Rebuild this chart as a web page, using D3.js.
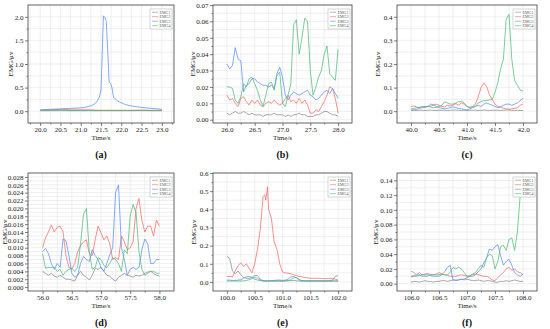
<!DOCTYPE html>
<html lang="en">
<head>
  <meta charset="utf-8">
  <title>EMG</title>
  <script src="https://d3js.org/d3.v7.min.js"></script>
  <style>
    body { margin: 0; background: #fff; }
  </style>
</head>
<body>
<div id="chart"></div>
<script>
"use strict"

// ---- data ----
var seriesNames = ["EMG1", "EMG2", "EMG3", "EMG4"];
var panelLetters = ["(a)", "(b)", "(c)", "(d)", "(e)", "(f)"];

// (a)
var timeA = [20.0,20.25,20.5,20.75,21.0,21.1,21.2,21.3,21.4,21.46,21.5,21.53,21.56,21.6,21.63,21.67,21.7,21.74,21.77,21.81,21.9,22.0,22.1,22.25,22.5,22.75,23.0];
var emg1A = [0.01,0.01,0.012,0.01,0.01,0.01,0.012,0.01,0.01,0.01,0.01,0.01,0.01,0.01,0.01,0.01,0.01,0.01,0.01,0.01,0.01,0.01,0.01,0.01,0.012,0.01,0.01];
var emg2A = [0.02,0.03,0.04,0.03,0.03,0.03,0.03,0.025,0.02,0.02,0.02,0.02,0.02,0.02,0.02,0.02,0.02,0.02,0.02,0.02,0.02,0.02,0.02,0.02,0.025,0.02,0.02];
var emg3A = [0.03,0.04,0.05,0.06,0.07,0.08,0.1,0.13,0.2,0.3,0.45,1.2,2.02,1.98,1.9,1.2,0.62,0.58,0.5,0.3,0.22,0.18,0.14,0.11,0.08,0.06,0.04];
var emg4A = [0.015,0.02,0.02,0.015,0.015,0.015,0.015,0.015,0.015,0.015,0.015,0.015,0.015,0.015,0.015,0.015,0.015,0.015,0.015,0.015,0.015,0.015,0.015,0.015,0.015,0.015,0.015];

// (b)
var timeB = [26.00,26.05,26.10,26.15,26.20,26.25,26.30,26.35,26.40,26.45,26.50,26.55,26.60,26.65,26.70,26.75,26.80,26.85,26.90,26.95,27.00,27.05,27.10,27.15,27.20,27.25,27.30,27.35,27.40,27.45,27.50,27.55,27.60,27.65,27.70,27.75,27.80,27.85,27.90,27.95,28.00];
var emg1B = [0.004,0.003,0.004,0.005,0.004,0.004,0.005,0.004,0.003,0.004,0.003,0.003,0.003,0.002,0.003,0.003,0.003,0.004,0.003,0.003,0.003,0.002,0.003,0.002,0.003,0.003,0.004,0.003,0.003,0.002,0.002,0.002,0.003,0.003,0.004,0.005,0.005,0.004,0.003,0.003,0.002];
var emg2B = [0.015,0.012,0.013,0.010,0.008,0.013,0.014,0.011,0.009,0.012,0.010,0.012,0.009,0.008,0.010,0.011,0.010,0.012,0.010,0.009,0.010,0.013,0.015,0.011,0.012,0.010,0.013,0.010,0.012,0.009,0.004,0.004,0.006,0.005,0.008,0.011,0.015,0.020,0.019,0.013,0.004];
var emg3B = [0.034,0.031,0.033,0.044,0.037,0.036,0.017,0.021,0.022,0.025,0.025,0.023,0.022,0.021,0.021,0.020,0.021,0.019,0.028,0.032,0.026,0.015,0.012,0.015,0.017,0.016,0.015,0.016,0.017,0.018,0.015,0.014,0.012,0.013,0.015,0.017,0.018,0.016,0.019,0.016,0.013];
var emg4B = [0.020,0.020,0.019,0.012,0.010,0.014,0.022,0.020,0.025,0.026,0.022,0.018,0.012,0.008,0.015,0.022,0.023,0.018,0.027,0.029,0.010,0.008,0.015,0.022,0.058,0.061,0.040,0.050,0.062,0.060,0.030,0.015,0.020,0.026,0.030,0.040,0.045,0.028,0.026,0.024,0.043];

// (c)
var timeC = [40.00,40.05,40.10,40.15,40.20,40.25,40.30,40.35,40.40,40.45,40.50,40.55,40.60,40.65,40.70,40.75,40.80,40.85,40.90,40.95,41.00,41.05,41.10,41.15,41.20,41.25,41.30,41.35,41.40,41.45,41.50,41.55,41.60,41.65,41.70,41.75,41.80,41.85,41.90,41.95,42.00];
var emg1C = [0.003,0.004,0.003,0.004,0.004,0.003,0.004,0.005,0.004,0.003,0.004,0.004,0.004,0.003,0.004,0.005,0.005,0.004,0.003,0.004,0.003,0.004,0.004,0.004,0.003,0.004,0.005,0.004,0.003,0.004,0.004,0.004,0.003,0.004,0.005,0.005,0.004,0.003,0.004,0.003,0.003];
var emg2C = [0.020,0.022,0.018,0.015,0.018,0.020,0.020,0.022,0.025,0.030,0.025,0.020,0.018,0.025,0.022,0.025,0.032,0.025,0.035,0.030,0.020,0.015,0.020,0.030,0.060,0.100,0.120,0.105,0.070,0.050,0.030,0.020,0.018,0.012,0.010,0.008,0.010,0.012,0.015,0.025,0.030];
var emg3C = [0.005,0.005,0.008,0.012,0.015,0.015,0.020,0.030,0.028,0.020,0.015,0.012,0.010,0.012,0.015,0.018,0.015,0.012,0.010,0.008,0.005,0.010,0.015,0.020,0.025,0.020,0.030,0.035,0.030,0.025,0.020,0.015,0.018,0.025,0.030,0.030,0.025,0.030,0.035,0.045,0.055];
var emg4C = [0.010,0.012,0.015,0.017,0.018,0.020,0.020,0.017,0.015,0.016,0.020,0.025,0.040,0.035,0.030,0.030,0.035,0.040,0.042,0.035,0.020,0.017,0.018,0.020,0.035,0.040,0.045,0.045,0.048,0.050,0.080,0.120,0.180,0.220,0.390,0.410,0.220,0.130,0.110,0.090,0.085];

// (d)
var timeD = [56.00,56.05,56.10,56.15,56.20,56.25,56.30,56.35,56.40,56.45,56.50,56.55,56.60,56.65,56.70,56.75,56.80,56.85,56.90,56.95,57.00,57.05,57.10,57.15,57.20,57.25,57.30,57.35,57.40,57.45,57.50,57.55,57.60,57.65,57.70,57.75,57.80,57.85,57.90,57.95,58.00];
var emg1D = [0.0040,0.0035,0.0030,0.0035,0.0028,0.0025,0.0030,0.0025,0.0020,0.0020,0.0018,0.0015,0.0030,0.0040,0.0030,0.0025,0.0018,0.0030,0.0048,0.0045,0.0050,0.0040,0.0030,0.0028,0.0020,0.0015,0.0025,0.0030,0.0035,0.0030,0.0028,0.0025,0.0030,0.0028,0.0030,0.0035,0.0038,0.0040,0.0035,0.0030,0.0028];
var emg2D = [0.0100,0.0125,0.0140,0.0158,0.0140,0.0152,0.0155,0.0140,0.0080,0.0050,0.0045,0.0060,0.0090,0.0105,0.0115,0.0120,0.0085,0.0080,0.0120,0.0155,0.0138,0.0120,0.0130,0.0110,0.0070,0.0075,0.0070,0.0130,0.0115,0.0095,0.0100,0.0115,0.0200,0.0225,0.0170,0.0140,0.0155,0.0155,0.0130,0.0170,0.0155];
var emg3D = [0.0090,0.0098,0.0085,0.0060,0.0045,0.0060,0.0050,0.0122,0.0118,0.0080,0.0035,0.0025,0.0030,0.0060,0.0078,0.0070,0.0065,0.0095,0.0080,0.0070,0.0050,0.0040,0.0060,0.0082,0.0100,0.0240,0.0260,0.0100,0.0070,0.0030,0.0045,0.0050,0.0045,0.0050,0.0095,0.0122,0.0110,0.0060,0.0060,0.0070,0.0070];
var emg4D = [0.0085,0.0048,0.0050,0.0050,0.0050,0.0040,0.0045,0.0030,0.0040,0.0045,0.0048,0.0040,0.0050,0.0110,0.0185,0.0200,0.0090,0.0045,0.0050,0.0075,0.0070,0.0055,0.0050,0.0060,0.0075,0.0070,0.0060,0.0040,0.0095,0.0085,0.0180,0.0210,0.0190,0.0090,0.0045,0.0030,0.0035,0.0040,0.0040,0.0035,0.0035];

// (e)
var timeE = [100.00,100.05,100.10,100.15,100.20,100.25,100.30,100.35,100.40,100.45,100.50,100.55,100.60,100.65,100.68,100.70,100.73,100.75,100.80,100.85,100.90,100.95,101.00,101.05,101.10,101.15,101.20,101.25,101.30,101.35,101.40,101.45,101.50,101.55,101.60,101.65,101.70,101.75,101.80,101.85,101.90,101.95,102.00];
var emg1E = [0.140,0.130,0.060,0.045,0.060,0.040,0.025,0.020,0.020,0.025,0.035,0.035,0.015,0.008,0.006,0.005,0.005,0.005,0.005,0.005,0.006,0.005,0.005,0.005,0.006,0.007,0.008,0.006,0.005,0.005,0.005,0.005,0.005,0.005,0.005,0.005,0.005,0.005,0.005,0.005,0.005,0.005,0.005];
var emg2E = [0.030,0.030,0.028,0.060,0.090,0.105,0.085,0.100,0.075,0.050,0.100,0.180,0.290,0.470,0.480,0.450,0.525,0.400,0.350,0.220,0.180,0.100,0.055,0.050,0.048,0.045,0.040,0.035,0.030,0.028,0.025,0.022,0.020,0.020,0.020,0.020,0.019,0.018,0.018,0.018,0.018,0.015,0.010];
var emg3E = [0.010,0.010,0.008,0.008,0.010,0.012,0.020,0.028,0.030,0.025,0.015,0.010,0.008,0.006,0.006,0.006,0.006,0.007,0.008,0.008,0.010,0.010,0.008,0.010,0.015,0.028,0.030,0.022,0.012,0.008,0.006,0.006,0.006,0.006,0.006,0.006,0.006,0.006,0.006,0.007,0.010,0.030,0.035];
var emg4E = [0.005,0.005,0.005,0.005,0.005,0.005,0.006,0.008,0.012,0.018,0.025,0.020,0.010,0.005,0.005,0.005,0.005,0.005,0.005,0.005,0.005,0.005,0.005,0.006,0.008,0.012,0.022,0.025,0.012,0.005,0.005,0.005,0.005,0.005,0.005,0.005,0.005,0.005,0.005,0.005,0.005,0.005,0.005];

// (f)
var timeF = [106.00,106.05,106.10,106.15,106.20,106.25,106.30,106.35,106.40,106.45,106.50,106.55,106.60,106.65,106.70,106.75,106.80,106.85,106.90,106.95,107.00,107.05,107.10,107.15,107.20,107.25,107.30,107.35,107.40,107.45,107.50,107.55,107.60,107.65,107.70,107.75,107.80,107.85,107.90,107.95,108.00];
var emg1F = [0.002,0.003,0.003,0.002,0.003,0.004,0.003,0.003,0.002,0.003,0.003,0.004,0.004,0.003,0.004,0.005,0.004,0.005,0.006,0.005,0.006,0.005,0.004,0.004,0.005,0.004,0.003,0.004,0.004,0.003,0.002,0.002,0.003,0.003,0.004,0.003,0.004,0.005,0.004,0.003,0.003];
var emg2F = [0.010,0.011,0.012,0.015,0.012,0.013,0.014,0.012,0.012,0.013,0.015,0.013,0.012,0.011,0.010,0.010,0.010,0.011,0.012,0.011,0.010,0.011,0.012,0.013,0.012,0.011,0.010,0.010,0.008,0.005,0.004,0.008,0.012,0.015,0.020,0.022,0.018,0.020,0.016,0.015,0.012];
var emg3F = [0.009,0.010,0.010,0.011,0.012,0.012,0.012,0.011,0.010,0.010,0.010,0.012,0.016,0.022,0.025,0.005,0.005,0.005,0.006,0.006,0.008,0.010,0.010,0.012,0.016,0.020,0.028,0.035,0.047,0.045,0.050,0.053,0.038,0.025,0.030,0.033,0.025,0.015,0.012,0.010,0.013];
var emg4F = [0.017,0.015,0.012,0.012,0.010,0.010,0.010,0.012,0.012,0.012,0.012,0.013,0.012,0.012,0.015,0.022,0.020,0.022,0.020,0.015,0.010,0.010,0.013,0.015,0.020,0.025,0.022,0.035,0.040,0.038,0.020,0.030,0.050,0.052,0.045,0.060,0.062,0.045,0.070,0.120,0.130];

// tick labels
var xTicksA = [20.0, 20.5, 21.0, 21.5, 22.0, 22.5, 23.0];
var xTicksB = [26.0, 26.5, 27.0, 27.5, 28.0];
var xTicksC = [40.0, 40.5, 41.0, 41.5, 42.0];
var xTicksD = [56.0, 56.5, 57.0, 57.5, 58.0];
var xTicksE = [100.0, 100.5, 101.0, 101.5, 102.0];
var xTicksF = [106.0, 106.5, 107.0, 107.5, 108.0];
var yTicksA = [0.0, 0.5, 1.0, 1.5, 2.0];
var yTicksB = [0.00, 0.01, 0.02, 0.03, 0.04, 0.05, 0.06, 0.07];
var yTicksC = [0.0, 0.1, 0.2, 0.3, 0.4];
var yTicksD = [0.000, 0.002, 0.004, 0.006, 0.008, 0.010, 0.012, 0.014, 0.016, 0.018, 0.020, 0.022, 0.024, 0.026, 0.028];
var yTicksE = [0.0, 0.1, 0.2, 0.3, 0.4, 0.5, 0.6];
var yTicksF = [0.00, 0.02, 0.04, 0.06, 0.08, 0.10, 0.12, 0.14];

var colors = ["#8a8a8a", "#f46a66", "#5a8ff0", "#4fb97a"];
var serif = "'Liberation Serif', 'Times New Roman', Times, serif";

// layout of the six panels (pixel frames + domains)
var panels = [
  {L: 28,  R: 174, T: 5,   B: 123, xDom: [19.7, 23.3],   yDom: [-0.25, 2.25],  xt: xTicksA, yt: yTicksA, yf: ".1f", t: timeA, s: [emg1A, emg2A, emg3A, emg4A], lab: 15},
  {L: 213, R: 352, T: 5,   B: 123, xDom: [25.75, 28.25], yDom: [-0.002, 0.07], xt: xTicksB, yt: yTicksB, yf: ".2f", t: timeB, s: [emg1B, emg2B, emg3B, emg4B], lab: 18},
  {L: 397, R: 537, T: 5,   B: 123, xDom: [39.75, 42.25], yDom: [-0.05, 0.45],  xt: xTicksC, yt: yTicksC, yf: ".1f", t: timeC, s: [emg1C, emg2C, emg3C, emg4C], lab: 17},
  {L: 28,  R: 174, T: 173, B: 291, xDom: [55.75, 58.25], yDom: [-0.001, 0.029], xt: xTicksD, yt: yTicksD, yf: ".3f", t: timeD, s: [emg1D, emg2D, emg3D, emg4D], lab: 21},
  {L: 213, R: 352, T: 173, B: 291, xDom: [99.75, 102.25], yDom: [-0.05, 0.6],  xt: xTicksE, yt: yTicksE, yf: ".1f", t: timeE, s: [emg1E, emg2E, emg3E, emg4E], lab: 17},
  {L: 397, R: 537, T: 173, B: 291, xDom: [105.75, 108.25], yDom: [-0.01, 0.15], xt: xTicksF, yt: yTicksF, yf: ".2f", t: timeF, s: [emg1F, emg2F, emg3F, emg4F], lab: 19}
];

var svg = d3.select("#chart").append("svg")
  .attr("width", 550).attr("height", 329)
  .attr("font-family", serif);

function minors(ticks, dom) {
  var step = ticks[1] - ticks[0];
  var out = [];
  ticks.forEach(function (v, i) {
    if (i === 0 && v - step / 2 > dom[0]) out.push(v - step / 2);
    if (v + step / 2 < dom[1]) out.push(v + step / 2);
  });
  return out;
}

panels.forEach(function (p, k) {
  var x = d3.scaleLinear().domain(p.xDom).range([p.L, p.R]);
  var y = d3.scaleLinear().domain(p.yDom).range([p.B, p.T]);
  var g = svg.append("g");

  var xMin = minors(p.xt, p.xDom), yMin = minors(p.yt, p.yDom);

  // grid
  var grid = g.append("g").attr("stroke", "#e4e4e4").attr("stroke-width", 0.6);
  grid.selectAll(".gx").data(p.xt.concat(xMin)).enter().append("line")
    .attr("x1", d => x(d)).attr("x2", d => x(d)).attr("y1", p.T).attr("y2", p.B);
  grid.selectAll(".gy").data(p.yt.concat(yMin)).enter().append("line")
    .attr("y1", d => y(d)).attr("y2", d => y(d)).attr("x1", p.L).attr("x2", p.R);

  // series
  var line = d3.line().x(d => x(d[0])).y(d => y(d[1]));
  p.s.forEach(function (vals, j) {
    g.append("path")
      .datum(p.t.map((tt, i) => [tt, vals[i]]))
      .attr("d", line)
      .attr("fill", "none")
      .attr("stroke", colors[j])
      .attr("stroke-width", 0.75)
      .attr("stroke-linejoin", "round");
  });

  // axes
  var ax = g.append("g").attr("transform", "translate(0," + p.B + ")")
    .call(d3.axisBottom(x).tickValues(p.xt).tickFormat(d3.format(".1f")).tickSize(3).tickPadding(1.5));
  ax.append("g").call(d3.axisBottom(x).tickValues(xMin).tickFormat("").tickSize(1.5));
  var ay = g.append("g").attr("transform", "translate(" + p.L + ",0)")
    .call(d3.axisLeft(y).tickValues(p.yt).tickFormat(d3.format(p.yf)).tickSize(3).tickPadding(1.5));
  ay.append("g").call(d3.axisLeft(y).tickValues(yMin).tickFormat("").tickSize(1.5));
  g.selectAll(".domain").remove();
  g.selectAll(".tick line").attr("stroke", "#444").attr("stroke-width", 0.7);
  g.selectAll(".tick text").attr("font-size", 7).attr("fill", "#222");

  // frame
  g.append("rect").attr("x", p.L).attr("y", p.T)
    .attr("width", p.R - p.L).attr("height", p.B - p.T)
    .attr("fill", "none").attr("stroke", "#555").attr("stroke-width", 0.9);

  // legend
  var bw = 22, bh = 20, bx = p.R - bw - 2, by = p.T + 4;
  var lg = g.append("g");
  lg.append("rect").attr("x", bx).attr("y", by).attr("width", bw).attr("height", bh)
    .attr("fill", "#fff").attr("stroke", "#aaa").attr("stroke-width", 0.5);
  seriesNames.forEach(function (nm, j) {
    var yy = by + 3.2 + j * 4.5;
    lg.append("line").attr("x1", bx + 2).attr("x2", bx + 8).attr("y1", yy).attr("y2", yy)
      .attr("stroke", colors[j]).attr("stroke-width", 0.6);
    lg.append("text").attr("x", bx + 9.5).attr("y", yy + 1.4).attr("font-size", 4)
      .attr("fill", "#555").text(nm);
  });

  // labels
  var cx = (p.L + p.R) / 2;
  g.append("text").attr("x", cx).attr("y", p.B + 17).attr("text-anchor", "middle")
    .attr("font-size", 7).attr("fill", "#222").text("Time/s");
  g.append("text").attr("transform", "translate(" + (p.L - p.lab) + "," + ((p.T + p.B) / 2) + ") rotate(-90)")
    .attr("text-anchor", "middle").attr("font-size", 7).attr("fill", "#222").text("EMG/μv");
  g.append("text").attr("x", cx).attr("y", p.B + 35).attr("text-anchor", "middle")
    .attr("font-size", 10).attr("font-weight", "bold").attr("fill", "#111").text(panelLetters[k]);
});

// d3 axes put their own sans-serif on the group, force the serif face on every text
svg.selectAll("text").style("font-family", serif);
</script>
</body>
</html>
